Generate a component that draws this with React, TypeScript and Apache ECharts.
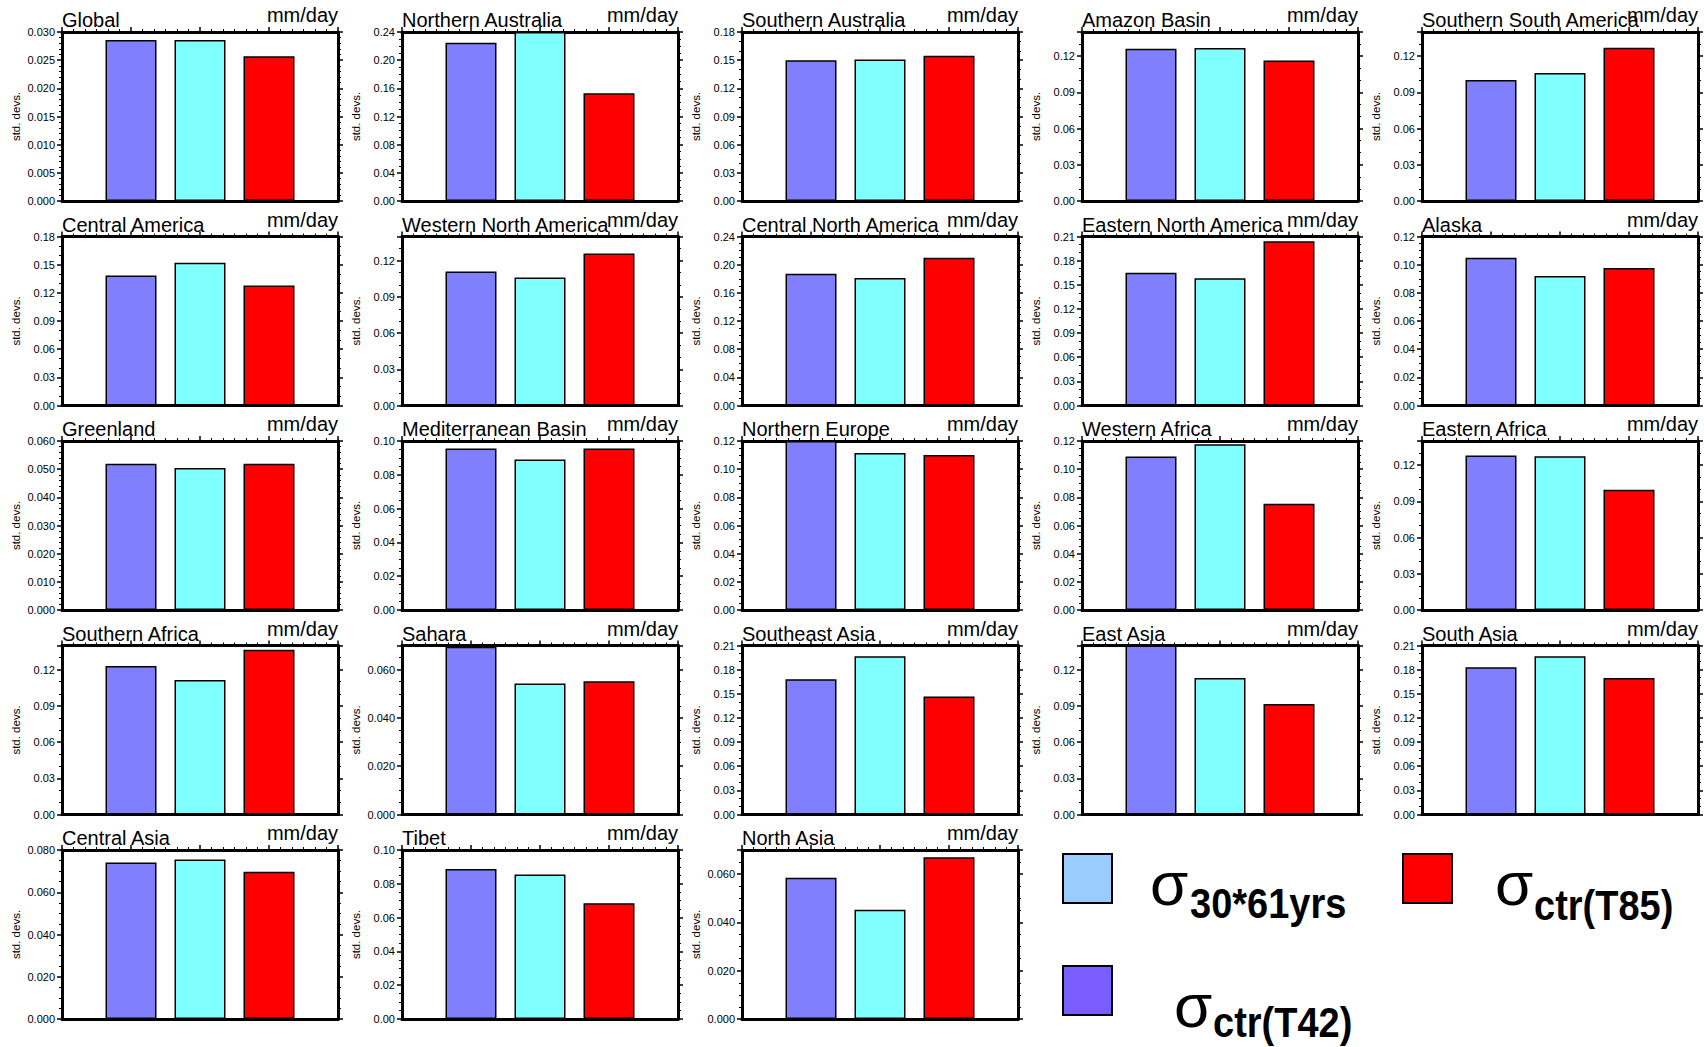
import React, { useEffect, useRef } from "react";
import * as echarts from "echarts";

const regions = [
  "Global", "Northern Australia", "Southern Australia", "Amazon Basin", "Southern South America",
  "Central America", "Western North America", "Central North America", "Eastern North America", "Alaska",
  "Greenland", "Mediterranean Basin", "Northern Europe", "Western Africa", "Eastern Africa",
  "Southern Africa", "Sahara", "Southeast Asia", "East Asia", "South Asia",
  "Central Asia", "Tibet", "North Asia",
];

// sigma ctr(T42) (purple bars)
const sigmaT42 = [
  0.0286, 0.2248, 0.150, 0.1261, 0.1003,
  0.1385, 0.111, 0.187, 0.165, 0.105,
  0.0519, 0.0955, 0.120, 0.109, 0.128,
  0.123, 0.0695, 0.168, 0.140, 0.183,
  0.0741, 0.0887, 0.0585,
];
// sigma 30*61yrs (cyan bars)
const sigma30x61 = [
  0.0286, 0.240, 0.1508, 0.1267, 0.1061,
  0.152, 0.106, 0.181, 0.158, 0.092,
  0.0504, 0.089, 0.1115, 0.1177, 0.1274,
  0.1115, 0.0543, 0.1965, 0.113, 0.1965,
  0.0755, 0.0855, 0.0452,
];
// sigma ctr(T85) (red bars)
const sigmaT85 = [
  0.0257, 0.153, 0.1547, 0.1164, 0.127,
  0.1278, 0.126, 0.210, 0.204, 0.0977,
  0.0519, 0.0955, 0.110, 0.0754, 0.0996,
  0.1364, 0.0552, 0.1467, 0.0915, 0.1696,
  0.0697, 0.0685, 0.067,
];

// y-axis specs per panel
const yMax = [
  0.030, 0.24, 0.18, 0.14, 0.14,
  0.18, 0.14, 0.24, 0.21, 0.12,
  0.060, 0.10, 0.12, 0.12, 0.14,
  0.14, 0.07, 0.21, 0.14, 0.21,
  0.080, 0.10, 0.07,
];
const yStep = [
  0.005, 0.04, 0.03, 0.03, 0.03,
  0.03, 0.03, 0.04, 0.03, 0.02,
  0.010, 0.02, 0.02, 0.02, 0.03,
  0.03, 0.020, 0.03, 0.03, 0.03,
  0.020, 0.02, 0.020,
];
const yDecimals = [
  3, 2, 2, 2, 2,
  2, 2, 2, 2, 2,
  3, 2, 2, 2, 2,
  2, 3, 2, 2, 2,
  3, 2, 3,
];

const unitsLabel = "mm/day";
const yName = "std. devs.";
const barColors = ["#8080ff", "#80ffff", "#ff0000"];
const legendItems = [
  { sub: "30*61yrs", color: "#99ccff" },
  { sub: "ctr(T85)", color: "#ff0000" },
  { sub: "ctr(T42)", color: "#7b5cff" },
];

const FONT = "'Liberation Sans', Arial, Helvetica, sans-serif";

function minorSplit(step: number): number {
  if (Math.abs(step - 0.03) < 1e-9) return 3;
  if (Math.abs(step - 0.04) < 1e-9) return 4;
  if (Math.abs(step - 0.02) < 1e-9) return 4;
  return 5;
}

export default function App() {
  const ref = useRef<HTMLDivElement>(null);

  useEffect(() => {
    if (!ref.current) return;
    const chart = echarts.init(ref.current, null, { renderer: "svg", width: 1704, height: 1047 });

    const grids: any[] = [];
    const xAxes: any[] = [];
    const yAxes: any[] = [];
    const series: any[] = [];
    const graphics: any[] = [];

    const PW = 276;
    const PH = 169;

    regions.forEach((name, i) => {
      const col = i % 5;
      const row = Math.floor(i / 5);
      const left = 62 + col * 340;
      const top = 32 + row * 204.5;
      grids.push({ left, top, width: PW, height: PH, outerBoundsMode: "none", containLabel: false });

      const frameLine = { show: true, onZero: false, lineStyle: { color: "#000", width: 3 } };
      // bottom x
      xAxes.push({
        gridIndex: i, type: "value", min: 0, max: 4, interval: 1, position: "bottom",
        axisLine: frameLine, axisTick: { show: false }, minorTick: { show: false },
        axisLabel: { show: false }, splitLine: { show: false },
      });
      // top x
      xAxes.push({
        gridIndex: i, type: "value", min: 0, max: 4, interval: 1, position: "top",
        axisLine: frameLine,
        axisTick: { show: true, length: 5, lineStyle: { color: "#000", width: 1.5 } },
        minorTick: { show: true, splitNumber: 6, length: 3, lineStyle: { color: "#000", width: 1 } },
        axisLabel: { show: false }, splitLine: { show: false },
      });

      const max = yMax[i];
      const step = yStep[i];
      const ratio = max / step;
      const maxIsTick = Math.abs(ratio - Math.round(ratio)) < 1e-6;
      const dec = yDecimals[i];
      // left y
      yAxes.push({
        gridIndex: i, type: "value", min: 0, max, interval: step, position: "left",
        name: yName, nameLocation: "middle", nameGap: 40, nameRotate: 90,
        nameTextStyle: { fontSize: 11.5, fontFamily: FONT, color: "#000" },
        axisLine: frameLine,
        axisTick: { show: true, length: 5, lineStyle: { color: "#000", width: 1.5 } },
        minorTick: { show: true, splitNumber: minorSplit(step), length: 3, lineStyle: { color: "#000", width: 1 } },
        axisLabel: {
          show: true, fontSize: 11, fontFamily: FONT, color: "#000", margin: 7,
          showMaxLabel: maxIsTick, showMinLabel: true,
          formatter: (v: number) => v.toFixed(dec),
        },
        splitLine: { show: false },
      });
      // right y
      yAxes.push({
        gridIndex: i, type: "value", min: 0, max, interval: step, position: "right",
        axisLine: frameLine,
        axisTick: { show: true, length: 5, lineStyle: { color: "#000", width: 1.5 } },
        minorTick: { show: true, splitNumber: minorSplit(step), length: 3, lineStyle: { color: "#000", width: 1 } },
        axisLabel: { show: false }, splitLine: { show: false },
      });

      const vals = [sigmaT42[i], sigma30x61[i], sigmaT85[i]];
      series.push({
        type: "bar",
        xAxisIndex: i * 2,
        yAxisIndex: i * 2,
        barWidth: 51,
        clip: true,
        z: 1,
        data: vals.map((v, k) => ({
          value: [k + 1, v],
          itemStyle: { color: barColors[k], borderColor: "#000", borderWidth: 1.5 },
        })),
      });

      graphics.push({
        type: "text", x: left, y: top - 12, z: 10,
        style: {
          text: name, fontSize: 20, fontFamily: FONT, fill: "#000",
          align: "left", textAlign: "left", verticalAlign: "middle", textVerticalAlign: "middle",
        },
      });
      graphics.push({
        type: "text", x: left + PW, y: top - 17, z: 10,
        style: {
          text: unitsLabel, fontSize: 20, fontFamily: FONT, fill: "#000",
          align: "right", textAlign: "right", verticalAlign: "middle", textVerticalAlign: "middle",
        },
      });
    });

    // Legend (positions in page pixels)
    const SIG_F = 62;
    const SUB_F = 38;
    const SUB_SY = 1.12;
    const legendPos = [
      { rx: 1063, ry: 854, sx: 1150, sBase: 905, bx: 1190, bBase: 918 },
      { rx: 1403, ry: 854, sx: 1495, sBase: 905, bx: 1534, bBase: 920 },
      { rx: 1063, ry: 966, sx: 1174, sBase: 1027, bx: 1213, bBase: 1037 },
    ];
    legendItems.forEach((it, k) => {
      const p = legendPos[k];
      graphics.push({
        type: "rect", z: 10,
        shape: { x: p.rx, y: p.ry, width: 49, height: 49 },
        style: { fill: it.color, stroke: "#000", lineWidth: 2 },
      });
      graphics.push({
        type: "text", x: p.sx, y: p.sBase - 0.35 * SIG_F, z: 10,
        style: {
          text: "σ", fontSize: SIG_F, fontFamily: FONT, fill: "#000",
          align: "left", textAlign: "left", verticalAlign: "middle", textVerticalAlign: "middle",
        },
      });
      graphics.push({
        type: "text", x: p.bx, y: p.bBase - 0.35 * SUB_F * SUB_SY, z: 10,
        scaleX: 1, scaleY: SUB_SY,
        style: {
          text: it.sub, fontSize: SUB_F, fontWeight: "bold", fontFamily: FONT, fill: "#000",
          align: "left", textAlign: "left", verticalAlign: "middle", textVerticalAlign: "middle",
        },
      });
    });

    chart.setOption({
      animation: false,
      backgroundColor: "#ffffff",
      grid: grids,
      xAxis: xAxes,
      yAxis: yAxes,
      series,
      graphic: { elements: graphics },
    });

    return () => chart.dispose();
  }, []);

  return (
    <div
      ref={ref}
      style={{ position: "absolute", left: 0, top: 0, width: 1704, height: 1047, background: "#fff" }}
    />
  );
}
